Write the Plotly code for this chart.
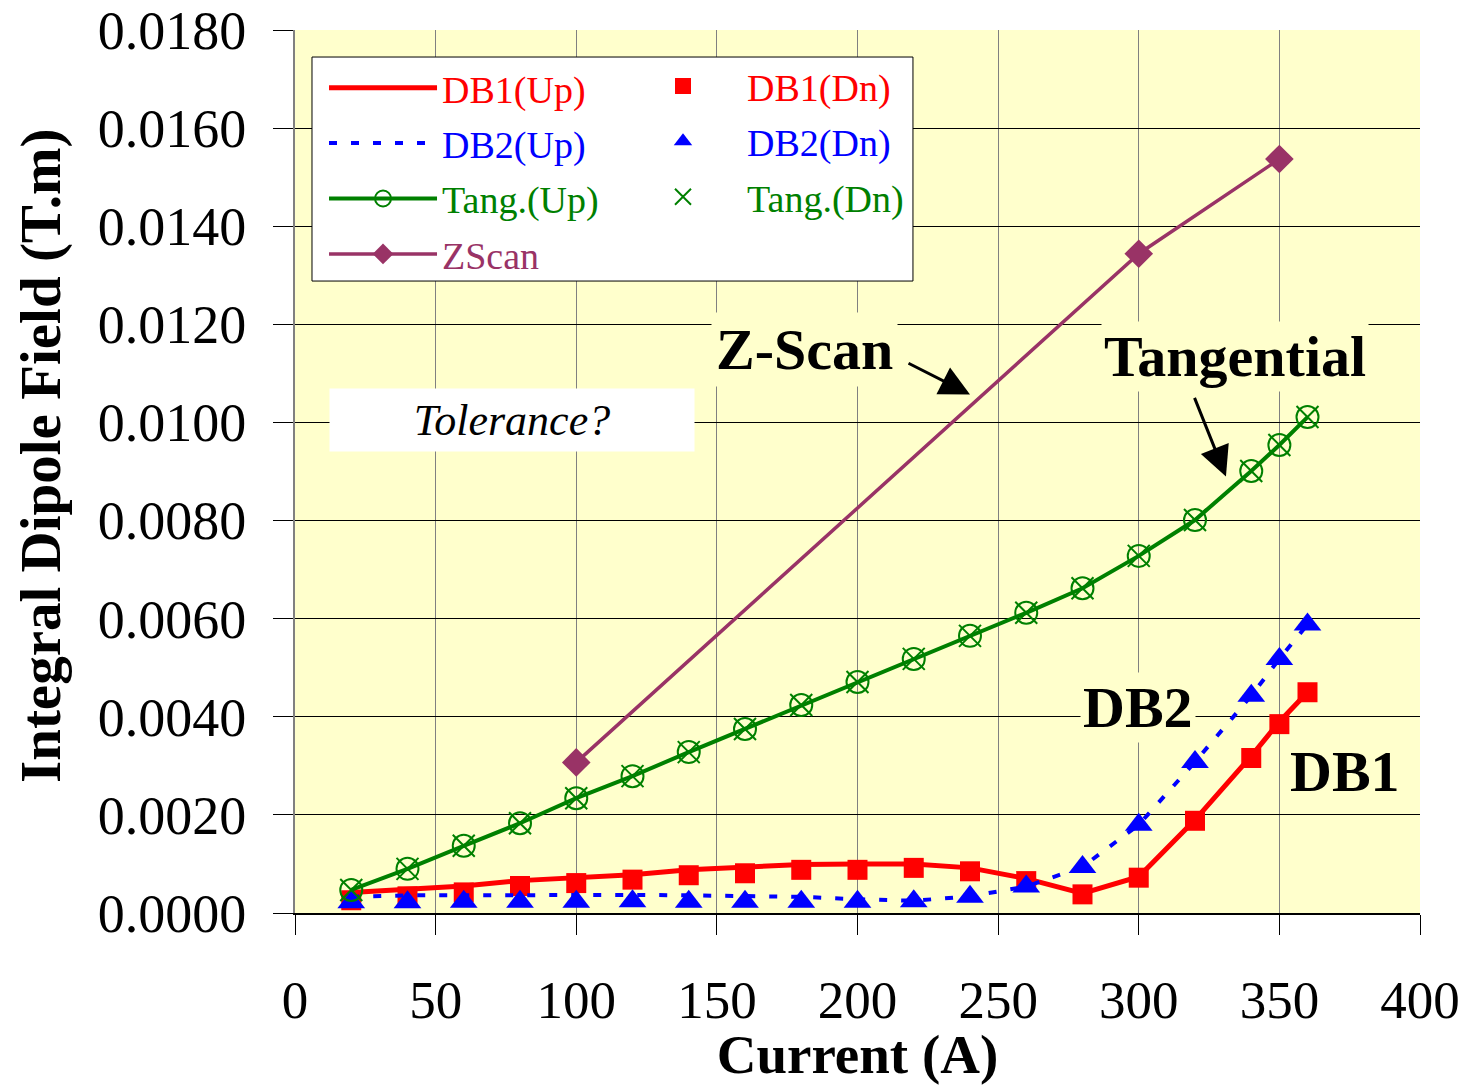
import plotly.graph_objects as go

# Excitation current (A) for the Hall-probe / coil measurements
current = [20, 40, 60, 80, 100, 120, 140, 160, 180, 200, 220, 240, 260, 280,
           300, 320, 340, 350, 360]

# Integral dipole field (T.m)
db1_up = [0.00042, 0.00048, 0.00055, 0.00066, 0.00072, 0.00078, 0.00088, 0.00093,
          0.00099, 0.00100, 0.00100, 0.00092, 0.00070, 0.00040, 0.00074, 0.00190,
          0.00320, 0.00390, 0.00450]
db1_dn = [0.00026, 0.00034, 0.00042, 0.00055, 0.00061, 0.00068, 0.00077, 0.00081,
          0.00088, 0.00088, 0.00092, 0.00085, 0.00065, 0.00038, 0.00072, 0.00188,
          0.00316, 0.00385, 0.00450]
db2_up = [0.00033, 0.00036, 0.00036, 0.00037, 0.00036, 0.00037, 0.00036, 0.00034,
          0.00033, 0.00028, 0.00025, 0.00034, 0.00054, 0.00094, 0.00180, 0.00308,
          0.00443, 0.00518, 0.00588]
db2_dn = [0.00022, 0.00022, 0.00023, 0.00023, 0.00023, 0.00024, 0.00023, 0.00023,
          0.00023, 0.00023, 0.00024, 0.00033, 0.00054, 0.00094, 0.00180, 0.00308,
          0.00443, 0.00518, 0.00588]
tang_up = [0.00047, 0.00090, 0.00137, 0.00183, 0.00234, 0.00279, 0.00328, 0.00375,
           0.00424, 0.00471, 0.00518, 0.00565, 0.00612, 0.00662, 0.00728, 0.00801,
           0.00901, 0.00954, 0.01011]
tang_dn = [0.00047, 0.00090, 0.00137, 0.00183, 0.00234, 0.00279, 0.00328, 0.00375,
           0.00424, 0.00471, 0.00518, 0.00565, 0.00612, 0.00662, 0.00728, 0.00801,
           0.00901, 0.00954, 0.01011]

zscan_current = [100, 300, 350]
zscan_field = [0.00307, 0.01344, 0.01537]

x_ticks = [0, 50, 100, 150, 200, 250, 300, 350, 400]
y_ticks = [0.000, 0.002, 0.004, 0.006, 0.008, 0.010, 0.012, 0.014, 0.016, 0.018]

SERIF = "Liberation Serif, Times New Roman, serif"
RED = "#FF0000"
BLUE = "#0000FF"
GREEN = "#008000"
PLUM = "#993366"


def colored(label, color):
    return f'<span style="color:{color}">{label}</span>'


fig = go.Figure()

fig.add_trace(go.Scatter(
    x=current, y=db1_up, mode="lines", name=colored("DB1(Up)", RED),
    line=dict(color=RED, width=5), legend="legend", legendgroup="a"))
fig.add_trace(go.Scatter(
    x=current, y=db1_dn, mode="markers", name=colored("DB1(Dn)", RED),
    marker=dict(symbol="square", color=RED, size=20), legend="legend2", legendgroup="e"))
fig.add_trace(go.Scatter(
    x=current, y=db2_up, mode="lines", name=colored("DB2(Up)", BLUE),
    line=dict(color=BLUE, width=4, dash="8px,14px"), legend="legend", legendgroup="b"))
fig.add_trace(go.Scatter(
    x=current, y=db2_dn, mode="markers", name=colored("DB2(Dn)", BLUE),
    marker=dict(symbol="triangle-up", color=BLUE, size=24), legend="legend2", legendgroup="f"))
fig.add_trace(go.Scatter(
    x=current, y=tang_up, mode="lines+markers", name=colored("Tang.(Up)", GREEN),
    line=dict(color=GREEN, width=4),
    marker=dict(symbol="circle-open", color=GREEN, size=22, line=dict(width=2)),
    legend="legend", legendgroup="c"))
fig.add_trace(go.Scatter(
    x=current, y=tang_dn, mode="markers", name=colored("Tang.(Dn)", GREEN),
    marker=dict(symbol="x-thin-open", color=GREEN, size=22, line=dict(width=2, color=GREEN)),
    legend="legend2", legendgroup="g"))
fig.add_trace(go.Scatter(
    x=zscan_current, y=zscan_field, mode="lines+markers", name=colored("ZScan", PLUM),
    line=dict(color=PLUM, width=3.5),
    marker=dict(symbol="diamond", color=PLUM, size=22),
    legend="legend", legendgroup="d"))

legend_font = dict(family=SERIF, size=38)

fig.update_layout(
    width=1471, height=1085, autosize=False,
    margin=dict(l=295, r=51, t=30, b=172, autoexpand=False),
    paper_bgcolor="white",
    plot_bgcolor="#FFFFCC",
    font=dict(family=SERIF, color="black"),
    showlegend=True,
    legend=dict(
        x=0.0258, y=0.97, xanchor="left", yanchor="top",
        bgcolor="rgba(0,0,0,0)", borderwidth=0, font=legend_font,
        tracegroupgap=3, itemwidth=108, traceorder="grouped",
    ),
    legend2=dict(
        x=0.288, y=0.972, xanchor="left", yanchor="top",
        bgcolor="rgba(0,0,0,0)", borderwidth=0, font=legend_font,
        tracegroupgap=3, itemwidth=118, traceorder="grouped",
    ),
    xaxis=dict(
        range=[0, 400], tickvals=x_ticks, ticktext=[str(v) for v in x_ticks],
        showgrid=True, gridcolor="#808080", gridwidth=1,
        ticks="outside", ticklen=20, tickcolor="black", tickwidth=1,
        ticklabelstandoff=19,
        tickfont=dict(family=SERIF, size=53),
        showline=True, linecolor="black", linewidth=2,
        zeroline=False,
        title=dict(text="<b>Current (A)</b>", font=dict(family=SERIF, size=55), standoff=38),
        automargin=False,
    ),
    yaxis=dict(
        range=[0, 0.018], tickvals=y_ticks, tickformat=".4f",
        showgrid=True, gridcolor="black", gridwidth=1,
        ticks="outside", ticklen=20, tickcolor="black", tickwidth=1,
        ticklabelstandoff=16,
        tickfont=dict(family=SERIF, size=54),
        showline=True, linecolor="#808080", linewidth=2,
        zeroline=False,
        automargin=False,
    ),
)

# Y-axis title, placed a little above the plot-area centre
fig.add_annotation(xref="paper", yref="paper", x=(41 - 295) / 1125, y=(913 - 456) / 883,
                   text="<b>Integral Dipole Field (T.m)</b>", textangle=-90,
                   showarrow=False, font=dict(family=SERIF, size=57, color="black"),
                   xanchor="center", yanchor="middle")

# Legend frame
fig.add_shape(type="rect", xref="paper", yref="paper",
              x0=0.0151, x1=0.5493, y0=0.7157, y1=0.9694,
              fillcolor="white", line=dict(color="black", width=1), layer="above")

label_font = dict(family=SERIF, size=58, color="black")
bg = "#FFFFCC"

# Series labels
fig.add_annotation(x=181.0, y=0.01149, text="<b>Z-Scan</b>", showarrow=False,
                   font=label_font, bgcolor=bg, borderpad=4)
fig.add_annotation(x=334.2, y=0.01134, text="<b>Tangential</b>", showarrow=False,
                   font=label_font, bgcolor=bg, borderpad=2)
fig.add_annotation(x=299.7, y=0.00419, text="<b>DB2</b>", showarrow=False,
                   font=label_font, bgcolor=bg, borderpad=2)
fig.add_annotation(x=373.3, y=0.00288, text="<b>DB1</b>", showarrow=False,
                   font=label_font, bgcolor=bg, borderpad=2)

# Pointer arrows
fig.add_annotation(x=240.0, y=0.01057, ax=-63, ay=-32, axref="pixel", ayref="pixel",
                   text="", showarrow=True, arrowhead=2, arrowsize=2,
                   arrowwidth=3, arrowcolor="black")
fig.add_annotation(x=331.0, y=0.0089, ax=-32, ay=-80, axref="pixel", ayref="pixel",
                   text="", showarrow=True, arrowhead=2, arrowsize=2,
                   arrowwidth=3, arrowcolor="black")

# Open question box
fig.add_annotation(x=77.2, y=0.01006, text="<i>Tolerance?</i>", showarrow=False,
                   font=dict(family=SERIF, size=44, color="black"),
                   bgcolor="white", width=360, height=58, borderpad=2, align="center")

fig.write_html("out.html")
